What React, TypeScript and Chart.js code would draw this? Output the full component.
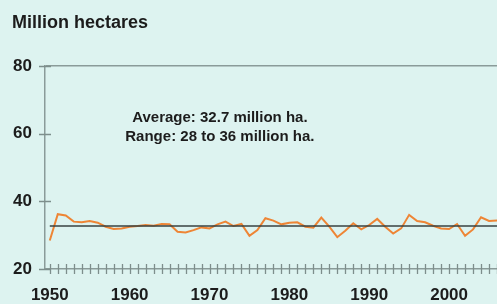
import React, { useEffect, useRef } from "react";
import { Chart, registerables } from "chart.js";

Chart.register(...registerables);

const YEARS = [
  1950, 1951, 1952, 1953, 1954, 1955, 1956, 1957, 1958, 1959,
  1960, 1961, 1962, 1963, 1964, 1965, 1966, 1967, 1968, 1969,
  1970, 1971, 1972, 1973, 1974, 1975, 1976, 1977, 1978, 1979,
  1980, 1981, 1982, 1983, 1984, 1985, 1986, 1987, 1988, 1989,
  1990, 1991, 1992, 1993, 1994, 1995, 1996, 1997, 1998, 1999,
  2000, 2001, 2002, 2003, 2004, 2005, 2006,
];

const AREA = [
  28.4, 36.2, 35.8, 34.0, 33.8, 34.2, 33.7, 32.5, 31.8, 32.0,
  32.5, 32.7, 33.0, 32.8, 33.3, 33.2, 31.0, 30.8, 31.5, 32.3,
  32.0, 33.2, 34.0, 32.7, 33.3, 29.8, 31.5, 35.0, 34.3, 33.2,
  33.7, 33.8, 32.5, 32.2, 35.2, 32.5, 29.4, 31.3, 33.5, 31.7,
  33.0, 34.8, 32.5, 30.5, 32.0, 36.0, 34.2, 33.8, 32.8, 32.0,
  31.8, 33.3, 29.8, 31.7, 35.3, 34.2, 34.3,
];

const AVERAGE = 32.7;
const X_LABEL_YEARS = [1950, 1960, 1970, 1980, 1990, 2000];
const Y_MIN = 20;
const Y_MAX = 80;
const Y_STEP = 20;
const X_MIN = 1949.4;
const X_MAX = 2006;

const TITLE = "Million hectares";
const NOTE_LINES = ["Average: 32.7 million ha.", "Range: 28 to 36 million ha."];
const NOTE_YEAR = 1971.3;
const NOTE_VALUES = [64.7, 59.1];

const BG = "#ddf3f0";
const AXIS = "#8a9b99";
const TICK = "#7d8e8c";
const TEXT = "#1c1c1c";
const ORANGE = "#ee8535";
const AVG_COLOR = "#374242";
const FONT = '"Liberation Sans", Arial, sans-serif';

const decorPlugin = {
  id: "decor",
  afterDraw(chart: any) {
    const { ctx, chartArea, scales } = chart;
    const xs = scales.x;
    const ys = scales.y;
    ctx.save();
    ctx.strokeStyle = TICK;
    ctx.lineWidth = 1.3;
    ctx.beginPath();
    for (const t of xs.ticks) {
      const px = Math.round(xs.getPixelForValue(t.value)) + 0.5;
      if (px < chartArea.left + 2) continue;
      ctx.moveTo(px, chartArea.bottom - 5);
      ctx.lineTo(px, chartArea.bottom + 5);
    }
    for (const t of ys.ticks) {
      const py = Math.round(ys.getPixelForValue(t.value)) + 0.5;
      ctx.moveTo(chartArea.left - 6, py);
      ctx.lineTo(chartArea.left + 6, py);
    }
    ctx.stroke();

    ctx.fillStyle = TEXT;
    ctx.font = `bold 18px ${FONT}`;
    ctx.textAlign = "left";
    ctx.textBaseline = "alphabetic";
    ctx.fillText(TITLE, 12, 28);

    ctx.font = `bold 15px ${FONT}`;
    ctx.textAlign = "center";
    ctx.textBaseline = "middle";
    const nx = xs.getPixelForValue(NOTE_YEAR);
    NOTE_LINES.forEach((line, i) => {
      ctx.fillText(line, nx, ys.getPixelForValue(NOTE_VALUES[i]));
    });
    ctx.restore();
  },
};

export default function App() {
  const ref = useRef<HTMLCanvasElement | null>(null);

  useEffect(() => {
    if (!ref.current) return;
    const chart = new Chart(ref.current, {
      type: "line",
      data: {
        datasets: [
          {
            data: [
              { x: YEARS[0], y: AVERAGE },
              { x: YEARS[YEARS.length - 1], y: AVERAGE },
            ],
            borderColor: AVG_COLOR,
            borderWidth: 1.6,
            pointRadius: 0,
          },
          {
            data: YEARS.map((y, i) => ({ x: y, y: AREA[i] })),
            borderColor: ORANGE,
            borderWidth: 2,
            pointRadius: 0,
            tension: 0,
          },
        ],
      },
      options: {
        responsive: false,
        animation: false,
        layout: { padding: { top: 66, right: 0, bottom: 0, left: 0 } },
        plugins: {
          legend: { display: false },
          tooltip: { enabled: false },
          title: { display: false },
        },
        scales: {
          x: {
            type: "linear",
            min: X_MIN,
            max: X_MAX,
            border: { color: AXIS, width: 1.5 },
            grid: { drawOnChartArea: false, drawTicks: false },
            ticks: {
              stepSize: 1,
              autoSkip: false,
              includeBounds: false,
              maxRotation: 0,
              padding: 16,
              color: TEXT,
              font: { family: FONT, size: 17, weight: "bold" },
              callback: (v: any) => (X_LABEL_YEARS.includes(Number(v)) ? String(v) : ""),
            },
            afterFit: (s: any) => {
              s.height = 35;
              s.paddingRight = 0;
              s.paddingLeft = 0;
            },
          },
          y: {
            min: Y_MIN,
            max: Y_MAX,
            border: { color: AXIS, width: 1.5 },
            grid: {
              drawTicks: false,
              lineWidth: 1.5,
              color: (c: any) => (c.tick && c.tick.value === Y_MAX ? AXIS : "transparent"),
            },
            ticks: {
              stepSize: Y_STEP,
              padding: 13,
              color: TEXT,
              font: { family: FONT, size: 17, weight: "bold" },
            },
            afterFit: (s: any) => {
              s.width = 45;
              s.paddingTop = 0;
              s.paddingBottom = 0;
            },
          },
        },
      } as any,
      plugins: [decorPlugin],
    });
    return () => chart.destroy();
  }, []);

  return (
    <div
      style={{
        position: "fixed",
        left: 0,
        top: 0,
        width: 497,
        height: 304,
        background: BG,
        overflow: "hidden",
      }}
    >
      <canvas ref={ref} width={497} height={304} style={{ display: "block" }} />
    </div>
  );
}
